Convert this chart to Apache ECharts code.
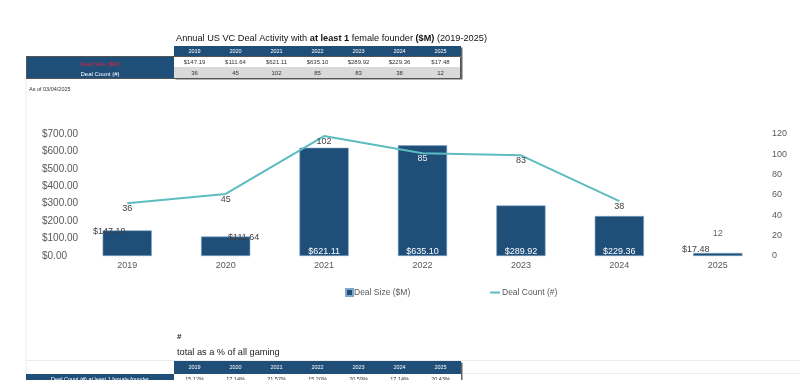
<!DOCTYPE html>
<html>
<head>
<meta charset="utf-8">
<script src="https://cdn.jsdelivr.net/npm/echarts@6/dist/echarts.min.js"></script>
<style>
html,body{margin:0;padding:0;background:#fff;}
#main{width:800px;height:380px;}
</style>
</head>
<body>
<div id="main"></div>
<script>
// ---- data ----
const years = ['2019', '2020', '2021', '2022', '2023', '2024', '2025'];
const dealSize = [147.19, 111.64, 621.11, 635.10, 289.92, 229.36, 17.48];
const dealCount = [36, 45, 102, 85, 83, 38, 12];
const sizeAxisTicks = [0, 100, 200, 300, 400, 500, 600, 700];
const countAxisTicks = [0, 20, 40, 60, 80, 100, 120];
const pctOfGaming = ['15.12%', '17.14%', '21.57%', '15.20%', '20.59%', '17.14%', '20.43%'];

// ---- styles (kept separate from data) ----
const NAVY = '#1f4e79';
const TEAL = '#5cbcbf';
const GREY = '#404040';
const barLabelStyles = [
  {position: 'top', distance: 0, offset: [-18, 6], color: GREY},
  {position: 'top', distance: 0, offset: [18, 5], color: GREY},
  {position: 'insideBottom', distance: 0, color: '#fff'},
  {position: 'insideBottom', distance: 0, color: '#fff'},
  {position: 'insideBottom', distance: 0, color: '#fff'},
  {position: 'insideBottom', distance: 0, color: '#fff'},
  {position: 'top', distance: 0, offset: [-22, 1], color: GREY}
];
const countLabelColors = [GREY, GREY, GREY, '#e8eef5', GREY, GREY, GREY];
const lastIdx = years.length - 1;
const fmtMoney = v => '$' + Number(v).toFixed(2);

const barData = dealSize.map((v, i) => ({
  value: v,
  label: Object.assign({show: true, fontSize: 9, fontFamily: 'Liberation Sans', formatter: p => fmtMoney(p.value)}, barLabelStyles[i])
}));
const lineData = dealCount.map((v, i) => i === lastIdx ? '-' : {value: v, label: {color: countLabelColors[i]}});
const lastCountData = dealCount.map((v, i) => i === lastIdx ? v : '-');

// ---- table graphics ----
const TX = 174, TW = 287, COLW = TW / years.length;
const g = [];
function cellText(x, y, text, opt) {
  g.push(Object.assign({type: 'text', x: x, y: y, style: Object.assign({text: text, font: '6px "Liberation Sans"', fill: '#333', textAlign: 'center', textVerticalAlign: 'middle'}, opt || {})}));
}
// faint sheet lines
g.push({type: 'line', shape: {x1: 26, y1: 80, x2: 26, y2: 380}, style: {stroke: '#ececec', lineWidth: 1}});
g.push({type: 'line', shape: {x1: 26, y1: 360.5, x2: 800, y2: 360.5}, style: {stroke: '#ececec', lineWidth: 1}});
g.push({type: 'line', shape: {x1: 461, y1: 373.5, x2: 800, y2: 373.5}, style: {stroke: '#ececec', lineWidth: 1}});
// title
g.push({type: 'text', x: 176, y: 38, style: {
  text: '{n|Annual US VC Deal Activity with }{b|at least 1}{n| female founder }{b|($M)}{n| (2019-2025)}',
  textVerticalAlign: 'middle',
  rich: {n: {font: '9.2px "Liberation Sans"', fill: '#111'}, b: {font: 'bold 9.2px "Liberation Sans"', fill: '#111'}}
}});
// top table
g.push({type: 'rect', shape: {x: TX + 1.5, y: 47.5, width: TW, height: 32}, style: {fill: '#666'}});
g.push({type: 'rect', shape: {x: TX, y: 46, width: TW, height: 10}, style: {fill: NAVY}});
g.push({type: 'rect', shape: {x: TX, y: 56, width: TW, height: 11}, style: {fill: '#fff'}});
g.push({type: 'rect', shape: {x: TX, y: 67, width: TW, height: 11}, style: {fill: '#d9d9d9'}});
g.push({type: 'rect', shape: {x: 26, y: 56, width: 148, height: 23}, style: {fill: NAVY}});
g.push({type: 'rect', shape: {x: 26.5, y: 56.5, width: 434, height: 22}, style: {fill: 'none', stroke: '#555', lineWidth: 1}});
cellText(100, 64, 'Deal Size ($M)', {fill: '#e0243c'});
cellText(100, 74.5, 'Deal Count (#)', {fill: '#fff'});
years.forEach((y, i) => {
  const cx = TX + COLW * (i + 0.5);
  cellText(cx, 51, y, {fill: '#fff', font: '5.5px "Liberation Sans"'});
  cellText(cx, 62, fmtMoney(dealSize[i]));
  cellText(cx, 73, String(dealCount[i]));
});
g.push({type: 'text', x: 29, y: 89, style: {text: 'As of 03/04/2025', font: '5.5px "Liberation Sans"', fill: '#333', textVerticalAlign: 'middle'}});
// bottom section
g.push({type: 'text', x: 177, y: 337, style: {text: '#', font: 'bold 8px "Liberation Sans"', fill: '#222', textVerticalAlign: 'middle'}});
g.push({type: 'text', x: 177, y: 352, style: {text: 'total as a % of all gaming', font: '9.2px "Liberation Sans"', fill: '#222', textVerticalAlign: 'middle'}});
g.push({type: 'rect', shape: {x: TX + 1.5, y: 362.5, width: TW, height: 20}, style: {fill: '#666'}});
g.push({type: 'rect', shape: {x: TX, y: 361, width: TW, height: 13}, style: {fill: NAVY}});
g.push({type: 'rect', shape: {x: TX, y: 374, width: TW, height: 8}, style: {fill: '#fff'}});
g.push({type: 'rect', shape: {x: 26, y: 374, width: 148, height: 8}, style: {fill: NAVY}});
cellText(100, 379, 'Deal Count (#) at least 1 female founder', {fill: '#fff', font: '5.5px "Liberation Sans"'});
years.forEach((y, i) => {
  const cx = TX + COLW * (i + 0.5);
  cellText(cx, 367.5, y, {fill: '#fff', font: '5.5px "Liberation Sans"'});
  cellText(cx, 379, pctOfGaming[i], {font: '5.5px "Liberation Sans"'});
});

const chart = echarts.init(document.getElementById('main'), null, {renderer: 'canvas'});
const axisLabelStyle = {color: '#595959', fontFamily: 'Liberation Sans'};
chart.setOption({
  animation: false,
  backgroundColor: '#fff',
  textStyle: {fontFamily: 'Liberation Sans'},
  grid: {left: 78, right: 33, top: 134, bottom: 124, containLabel: false},
  legend: [
    {data: ['Deal Size ($M)'], left: 345, top: 288, padding: 0, icon: 'rect', itemWidth: 7, itemHeight: 7, itemGap: 2,
     textStyle: {color: '#595959', fontSize: 8.5, padding: [0, 0, 0, -4]}},
    {data: ['Deal Count (#)'], left: 490, top: 288, padding: 0, icon: 'rect', itemWidth: 10, itemHeight: 2,
     textStyle: {color: '#595959', fontSize: 8.5, padding: [0, 0, 0, -3]}}
  ],
  xAxis: {
    type: 'category', data: years,
    axisLine: {show: false}, axisTick: {show: false},
    axisLabel: Object.assign({margin: 5, fontSize: 9}, axisLabelStyle)
  },
  yAxis: [
    {type: 'value', min: sizeAxisTicks[0], max: sizeAxisTicks[sizeAxisTicks.length - 1], interval: 100,
     axisLine: {show: false}, axisTick: {show: false}, splitLine: {show: false},
     axisLabel: Object.assign({margin: 36, align: 'left', fontSize: 10, formatter: v => fmtMoney(v)}, axisLabelStyle)},
    {type: 'value', position: 'right', min: countAxisTicks[0], max: countAxisTicks[countAxisTicks.length - 1], interval: 20,
     axisLine: {show: false}, axisTick: {show: false}, splitLine: {show: false},
     axisLabel: Object.assign({margin: 5, fontSize: 9}, axisLabelStyle)},
    {type: 'value', show: false, min: -16, max: 104}
  ],
  series: [
    {name: 'Deal Size ($M)', type: 'bar', yAxisIndex: 0, data: barData, barWidth: '50%',
     itemStyle: {color: NAVY, borderColor: '#7fa6c9', borderWidth: 0.6}},
    {name: 'Deal Count (#)', type: 'line', yAxisIndex: 2, data: lineData, symbol: 'circle', symbolSize: 0, showSymbol: true,
     lineStyle: {color: TEAL, width: 2}, itemStyle: {color: TEAL},
     label: {show: true, position: 'bottom', distance: 1, color: GREY, fontSize: 9}},
    {name: 'Deal Count (#)', type: 'scatter', yAxisIndex: 2, data: lastCountData, symbolSize: 0,
     itemStyle: {color: TEAL},
     label: {show: true, position: 'bottom', distance: 1, color: GREY, fontSize: 9}}
  ],
  graphic: g
});
</script>
</body>
</html>
